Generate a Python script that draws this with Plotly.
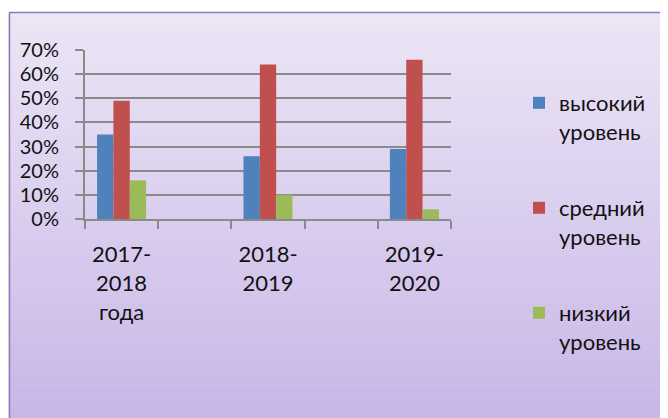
import plotly.graph_objects as go

categories = ["2017-<br>2018<br>года", " ", "2018-<br>2019", "  ", "2019-<br>2020"]
high = [0.35, None, 0.26, None, 0.29]
mid = [0.49, None, 0.64, None, 0.66]
low = [0.16, None, 0.10, None, 0.04]
series_names = ["высокий<br>уровень", "средний<br>уровень", "низкий<br>уровень"]
colors = ["#4F81BD", "#C0504D", "#9BBB59"]

W, H = 668, 418
OFF = 8  # page body margin
L, R, T, B = 77, 443, 42, 211  # plot area in figure pixels


def px2x(p):  # screen pixel -> paper x
    return (p - OFF - L) / (R - L)


def px2y(p):  # screen pixel -> paper y
    return (B - (p - OFF)) / (B - T)


FONT = "Lato, 'Open Sans', sans-serif"
TXT = "#111111"

legend_ids = ["legend", "legend2", "legend3"]
legend_tops = [82, 187, 292]  # screen px

fig = go.Figure()
for name, vals, c, lid in zip(series_names, [high, mid, low], colors, legend_ids):
    fig.add_trace(go.Bar(x=categories, y=vals, name=name, marker_color=c,
                         marker_line_width=0, legend=lid))

# gradient background + frame
shapes = []
top_c = (0xEC, 0xE6, 0xF6)
bot_c = (0xC8, 0xB6, 0xE7)
y0p, y1p = 12, H
n = 60
for i in range(n):
    a = y0p + (y1p - y0p) * i / n
    b = y0p + (y1p - y0p) * (i + 1) / n + 0.6
    t = (i + 0.5) / n
    col = tuple(round(top_c[k] + (bot_c[k] - top_c[k]) * t) for k in range(3))
    shapes.append(dict(type="rect", xref="paper", yref="paper", layer="below",
                       x0=px2x(9), x1=px2x(W + 20), y0=px2y(a), y1=px2y(b),
                       fillcolor="rgb(%d,%d,%d)" % col, line_width=0))
shapes.append(dict(type="line", xref="paper", yref="paper", layer="below",
                   x0=px2x(8.2), x1=px2x(8.2), y0=px2y(14), y1=px2y(H + 20),
                   line=dict(color="rgba(0,0,0,0.12)", width=1)))
shapes.append(dict(type="rect", xref="paper", yref="paper", layer="below",
                   x0=px2x(9.5), x1=px2x(W + 20), y0=px2y(12.5), y1=px2y(H + 20),
                   fillcolor="rgba(0,0,0,0)",
                   line=dict(color="#8E79B9", width=1.5)))

layout_legends = {}
for lid, top in zip(legend_ids, legend_tops):
    layout_legends[lid] = dict(x=px2x(519), xanchor="left", y=px2y(top), yanchor="top",
                               bgcolor="rgba(0,0,0,0)", valign="top",
                               font=dict(family=FONT, size=22, color=TXT))

fig.update_layout(
    width=W, height=H,
    margin=dict(l=L, r=W - R, t=T, b=H - B, autoexpand=False),
    paper_bgcolor="white",
    plot_bgcolor="white",
    barmode="group",
    bargap=0.33,
    bargroupgap=0,
    font=dict(family=FONT, size=22, color=TXT),
    shapes=shapes,
    showlegend=True,
    **layout_legends,
)
fig.update_yaxes(range=[0, 0.7], dtick=0.1, tickformat=".0%",
                 tickfont=dict(family=FONT, size=20, color=TXT),
                 showgrid=True, gridcolor="#8A8A8A", gridwidth=2,
                 showline=True, linecolor="#8A8A8A", linewidth=2,
                 ticks="outside", ticklen=8, tickcolor="#8A8A8A", tickwidth=2,
                 ticklabelstandoff=12, zeroline=False)
fig.update_xaxes(type="category", showline=True, linecolor="#8A8A8A", linewidth=2,
                 ticks="outside", ticklen=8, tickcolor="#8A8A8A", tickwidth=2,
                 tickson="boundaries", showgrid=False, ticklabelstandoff=15)

fig.write_html("out.html")
